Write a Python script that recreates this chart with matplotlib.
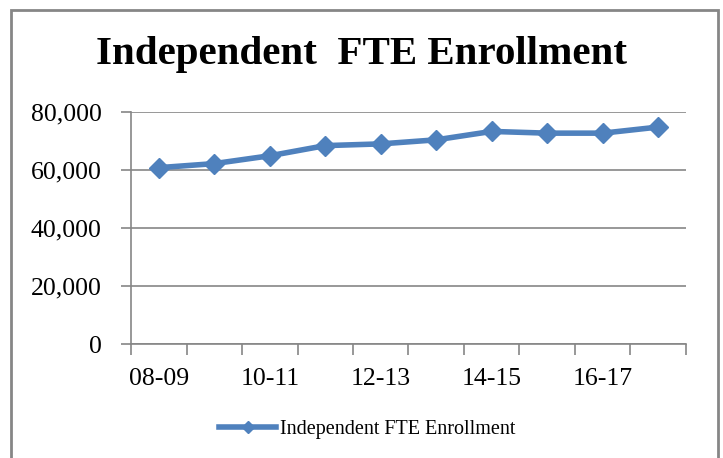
import matplotlib.pyplot as plt
from matplotlib.patches import Rectangle
from matplotlib.ticker import FuncFormatter

years = ['08-09', '09-10', '10-11', '11-12', '12-13',
         '13-14', '14-15', '15-16', '16-17', '17-18']
fte = [60800, 62200, 64900, 68400, 69000,
       70400, 73300, 72700, 72700, 74800]

plt.rcParams['font.family'] = ['Liberation Serif', 'DejaVu Serif']
grey = '#868686'
blue = '#4F81BD'

fig = plt.figure(figsize=(7.23, 4.58), dpi=100)
ax = fig.add_axes([0.1812, 0.2489, 0.7676, 0.5066])

x = list(range(len(years)))
ax.plot(x, fte, color=blue, linewidth=4, marker='D', markersize=10,
        label='Independent FTE Enrollment')

ax.set_xlim(-0.5, len(years) - 0.5)
ax.set_ylim(0, 80000)
ax.set_yticks([0, 20000, 40000, 60000, 80000])
ax.yaxis.set_major_formatter(FuncFormatter(lambda v, p: f'{int(v):,}'))
ax.grid(True, axis='y', color=grey, linewidth=1.2)
ax.set_axisbelow(True)

ax.set_xticks(x[::2], years[::2])
ax.set_xticks([i - 0.5 for i in range(len(years) + 1)], minor=True)
ax.tick_params(axis='x', which='major', length=0, pad=17, labelsize=18.5)
ax.tick_params(axis='x', which='minor', length=8, width=1.2, color=grey)
ax.tick_params(axis='y', length=7, width=1.2, color=grey, pad=14, labelsize=18.5)

for s in ['top', 'right']:
    ax.spines[s].set_visible(False)
for s in ['left', 'bottom']:
    ax.spines[s].set_color(grey)
    ax.spines[s].set_linewidth(1.2)

fig.text(0.5, 0.88, 'Independent  FTE Enrollment', ha='center', va='center',
         fontsize=29.5, fontweight='bold')

leg = fig.legend(loc='center', bbox_to_anchor=(0.508, 0.063), frameon=False,
                 fontsize=14.5, handlelength=2.8, handletextpad=0.2,
                 markerscale=0.6)

fig.patches.append(Rectangle((11 / 723, -0.1), 707 / 723, 1.1 - 10 / 458,
                             transform=fig.transFigure, fill=False,
                             edgecolor=grey, linewidth=2))

fig.savefig('out.png', dpi=100)
